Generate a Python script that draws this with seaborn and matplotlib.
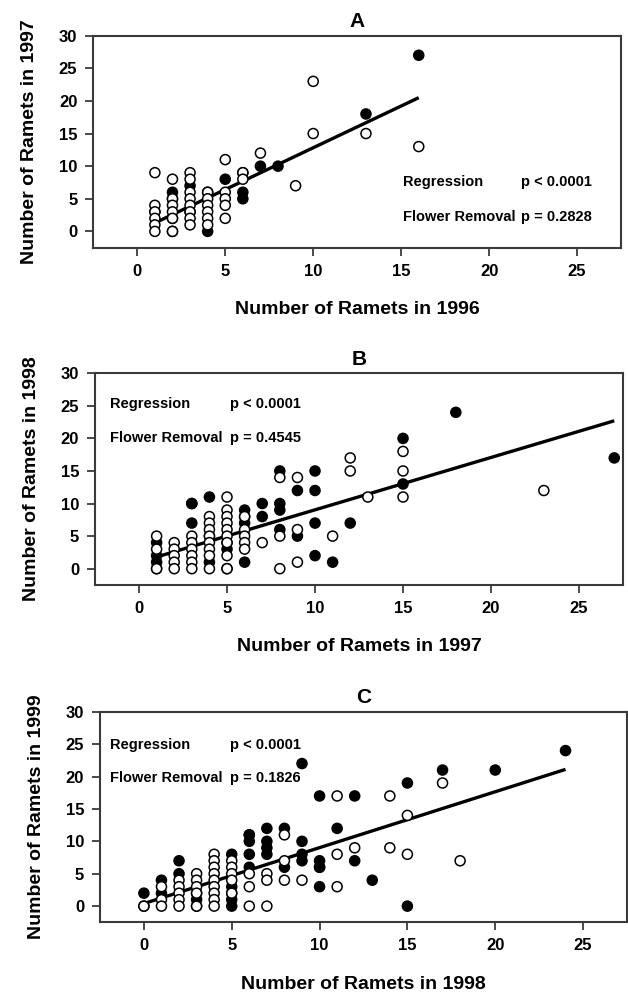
import matplotlib
matplotlib.use("Agg")
import matplotlib.pyplot as plt
import seaborn as sns
import pandas as pd

# panel A: 1996 -> 1997
a_open_x = [1, 1, 1, 1, 1, 1, 2, 2, 2, 2, 2, 2, 3, 3, 3, 3, 3, 3, 3, 3,
            4, 4, 4, 4, 4, 4, 5, 5, 5, 5, 5, 6, 6, 7, 9, 10, 10, 13, 16]
a_open_y = [9, 4, 3, 2, 1, 0, 8, 5, 4, 3, 2, 0, 9, 8, 6, 5, 4, 3, 2, 1,
            6, 5, 4, 3, 2, 1, 11, 6, 5, 4, 2, 9, 8, 12, 7, 23, 15, 15, 13]
a_filled_x = [1, 2, 2, 2, 2, 3, 3, 4, 4, 5, 6, 6, 6, 7, 8, 13, 16]
a_filled_y = [3, 6, 5, 2, 0, 7, 3, 6, 0, 8, 9, 6, 5, 10, 10, 18, 27]
a_fit_x = [1, 16]
a_fit_y = [1.3, 20.5]

# panel B: 1997 -> 1998
b_open_x = [1, 1, 1, 1, 2, 2, 2, 2, 2, 3, 3, 3, 3, 3, 3, 4, 4, 4, 4, 4, 4, 4, 4,
            5, 5, 5, 5, 5, 5, 5, 5, 5, 5, 6, 6, 6, 6, 6, 7, 8, 8, 8, 9, 9, 9,
            11, 12, 12, 13, 15, 15, 15, 23]
b_open_y = [5, 3, 0, 0, 4, 3, 2, 1, 0, 5, 4, 3, 2, 1, 0, 8, 7, 6, 5, 4, 3, 2, 0,
            11, 9, 8, 7, 6, 5, 4, 2, 0, 0, 8, 6, 5, 4, 3, 4, 14, 5, 0, 14, 6, 1,
            5, 17, 15, 11, 18, 15, 11, 12]
b_filled_x = [1, 1, 1, 3, 3, 3, 4, 4, 4, 5, 5, 6, 6, 6, 6, 7, 7, 8, 8, 8, 8,
              9, 9, 10, 10, 10, 10, 11, 12, 15, 15, 18, 27]
b_filled_y = [4, 2, 1, 10, 10, 7, 11, 5, 1, 4, 3, 9, 8, 7, 1, 10, 8, 15, 10, 9, 6,
              12, 5, 15, 12, 7, 2, 1, 7, 20, 13, 24, 17]
b_fit_x = [1, 27]
b_fit_y = [1.8, 22.7]

# panel C: 1998 -> 1999
c_open_x = [0, 0, 1, 1, 1, 2, 2, 2, 2, 2, 3, 3, 3, 3, 3, 4, 4, 4, 4, 4, 4, 4, 4, 4,
            5, 5, 5, 5, 5, 6, 6, 6, 7, 7, 7, 8, 8, 8, 9, 11, 11, 11, 12, 14, 14,
            15, 15, 17, 18]
c_open_y = [0, 0, 3, 1, 0, 4, 3, 2, 1, 0, 5, 4, 3, 2, 0, 8, 7, 6, 5, 4, 3, 2, 1, 0,
            7, 6, 5, 4, 2, 5, 3, 0, 5, 4, 0, 11, 7, 4, 4, 17, 8, 3, 9, 17, 9,
            14, 8, 19, 7]
c_filled_x = [0, 1, 1, 2, 2, 3, 3, 3, 5, 5, 5, 5, 5, 6, 6, 6, 6, 6, 7, 7, 7, 7,
              8, 8, 9, 9, 9, 9, 10, 10, 10, 10, 10, 11, 12, 12, 13, 15, 15, 17, 20, 24]
c_filled_y = [2, 4, 2, 7, 5, 2, 1, 0, 8, 3, 2, 1, 0, 11, 11, 10, 8, 6, 12, 10, 9, 8,
              12, 6, 22, 10, 8, 7, 17, 7, 6, 6, 3, 12, 17, 7, 4, 19, 0, 21, 21, 24]
c_fit_x = [0, 24]
c_fit_y = [0.4, 21.1]

titles = ["A", "B", "C"]
x_labels = ["Number of Ramets in 1996", "Number of Ramets in 1997", "Number of Ramets in 1998"]
y_labels = ["Number of Ramets in 1997", "Number of Ramets in 1998", "Number of Ramets in 1999"]
p_flower = ["p = 0.2828", "p = 0.4545", "p = 0.1826"]
p_regression = "p < 0.0001"

sns.set_style("ticks")
plt.rcParams["font.family"] = ["Liberation Sans", "DejaVu Sans"]
plt.rcParams["font.weight"] = "bold"
plt.rcParams["axes.labelweight"] = "bold"
plt.rcParams["axes.titleweight"] = "bold"
plt.rcParams["text.color"] = "black"
plt.rcParams["axes.labelcolor"] = "black"
plt.rcParams["xtick.labelcolor"] = "black"
plt.rcParams["ytick.labelcolor"] = "black"

frame = "#3a3a3a"

fig = plt.figure(figsize=(6.28, 9.94), dpi=100)
positions = [
    [0.1486, 0.7508, 0.8403, 0.2133],
    [0.1513, 0.4115, 0.8408, 0.2130],
    [0.1592, 0.0721, 0.8392, 0.2119],
]
# text positions in axes fraction: (label x, p x, regression y, flower y)
text_pos = [
    (0.586, 0.810, 0.311, 0.143),
    (0.028, 0.256, 0.855, 0.693),
    (0.019, 0.247, 0.842, 0.684),
]

panels = [
    (a_open_x, a_open_y, a_filled_x, a_filled_y, a_fit_x, a_fit_y),
    (b_open_x, b_open_y, b_filled_x, b_filled_y, b_fit_x, b_fit_y),
    (c_open_x, c_open_y, c_filled_x, c_filled_y, c_fit_x, c_fit_y),
]

for i, (ox, oy, fx, fy, lx, ly) in enumerate(panels):
    ax = fig.add_axes(positions[i])
    df = pd.DataFrame({
        "x": fx + ox,
        "y": fy + oy,
        "group": ["filled"] * len(fx) + ["open"] * len(ox),
    })
    sns.scatterplot(data=df, x="x", y="y", hue="group",
                    palette={"filled": "black", "open": "white"},
                    edgecolor="black", linewidth=1.1, s=52,
                    legend=False, ax=ax, zorder=3)
    ax.plot(lx, ly, color="black", lw=2.4, zorder=2, solid_capstyle="butt")

    ax.set_xlim(-2.5, 27.5)
    ax.set_ylim(-2.5, 30)
    ax.set_xticks([0, 5, 10, 15, 20, 25])
    ax.set_yticks([0, 5, 10, 15, 20, 25, 30])
    for sp in ax.spines.values():
        sp.set_visible(True)
        sp.set_color(frame)
        sp.set_linewidth(1.5)
    ax.tick_params(direction="out", length=5.5, width=1.3, color=frame,
                   labelsize=12, pad=6)
    ax.set_xlabel(x_labels[i], fontsize=14, labelpad=16)
    ax.set_ylabel(y_labels[i], fontsize=14, labelpad=15)
    ax.set_title(titles[i], fontsize=15, pad=6)

    tx, px, ry, fy_ = text_pos[i]
    ax.text(tx, ry, "Regression", transform=ax.transAxes, fontsize=10.5,
            ha="left", va="center")
    ax.text(px, ry, p_regression, transform=ax.transAxes, fontsize=10.5,
            ha="left", va="center")
    ax.text(tx, fy_, "Flower Removal", transform=ax.transAxes, fontsize=10.5,
            ha="left", va="center")
    ax.text(px, fy_, p_flower[i], transform=ax.transAxes, fontsize=10.5,
            ha="left", va="center")

fig.savefig("out.png", dpi=100)
